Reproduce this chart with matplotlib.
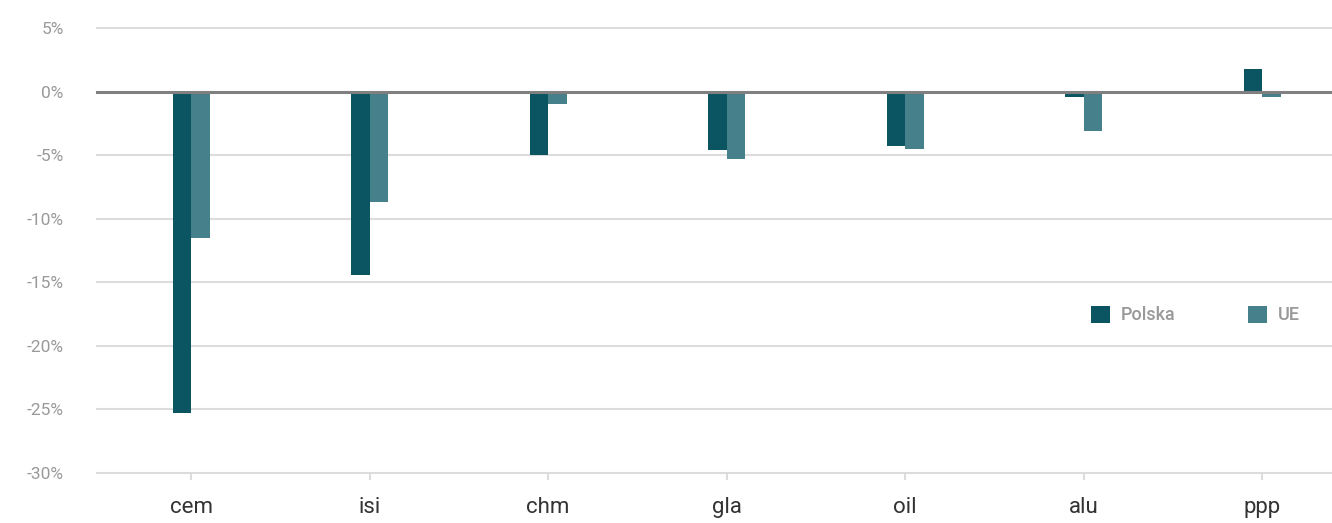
import matplotlib.pyplot as plt
import numpy as np

categories = ['cem', 'isi', 'chm', 'gla', 'oil', 'alu', 'ppp']
polska = [-25.3, -14.4, -5.0, -4.6, -4.3, -0.4, 1.8]
ue = [-11.5, -8.7, -1.0, -5.3, -4.5, -3.1, -0.4]
y_ticks = [5, 0, -5, -10, -15, -20, -25, -30]

c_pl = '#0b5563'
c_ue = '#46808a'

plt.rcParams['font.family'] = ['Roboto', 'DejaVu Sans']

fig = plt.figure(figsize=(13.32, 5.23), dpi=100)
ax = fig.add_axes([97 / 1332, 1 - 473 / 523, 1 - 97 / 1332, (473 - 28) / 523])

x = np.arange(len(categories))
w = 0.104
ax.bar(x - w / 2, polska, width=w, color=c_pl, label='Polska', zorder=2)
ax.bar(x + w / 2, ue, width=w, color=c_ue, label='UE', zorder=2)

ax.set_ylim(-30, 5)
ax.set_xlim(-0.527, 6.39)

for v in y_ticks:
    if v == 0:
        ax.axhline(v, color='#808080', lw=2.2, zorder=3, clip_on=False)
    else:
        ax.axhline(v, color='#dcdcdc', lw=1.5, zorder=1, clip_on=False)

for s in ax.spines.values():
    s.set_visible(False)

ax.set_yticks(y_ticks)
ax.set_yticklabels([f'{v}%' for v in y_ticks])
ax.tick_params(axis='y', length=0, pad=24, labelsize=12.5, labelcolor='#999999')
ax.set_xticks(x)
ax.set_xticklabels(categories)
ax.tick_params(axis='x', length=5, width=1.5, color='#dcdcdc', pad=12,
               labelsize=16, labelcolor='#333333')

leg = ax.legend(loc='center left', bbox_to_anchor=(0.792, 0.355), ncol=2,
                frameon=False, handlelength=1.05, handleheight=1.05,
                handletextpad=0.6, columnspacing=4.0,
                prop={'size': 13, 'weight': 'medium'})
for t in leg.get_texts():
    t.set_color('#999999')

plt.savefig('out.png', dpi=100)
